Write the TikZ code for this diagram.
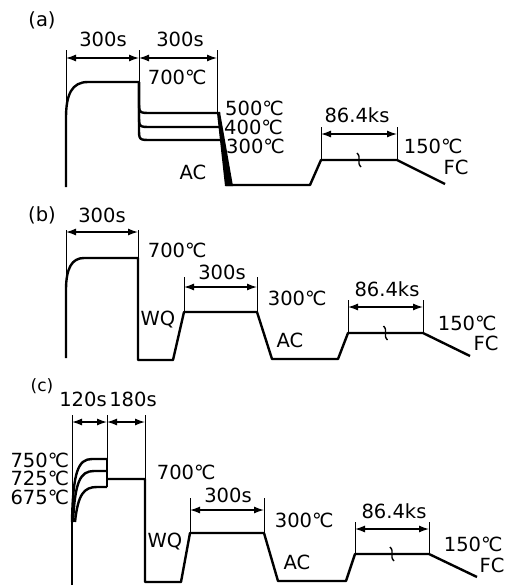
\documentclass[tikz,border=0pt]{standalone}
\usepackage{fontspec}
\setmainfont{DejaVu Sans}
\usetikzlibrary{arrows.meta,calc}
\newcommand{\dgc}{°\kern-.12em C}

\begin{document}
\begin{tikzpicture}[x=1pt, y=-1pt, font=\fontsize{19.5}{20}\selectfont,
  curve/.style={line width=2.4pt, line join=round},
  tick/.style={line width=0.8pt},
  dim/.style={line width=1.3pt, {Latex[length=10pt,width=7pt]}-{Latex[length=10pt,width=7pt]}},
  lbl/.style={inner sep=0pt},
  brk/.pic={\draw[line width=1.4pt] (-2,-7) .. controls (3,-2) and (-3,2) .. (2,7);}]
\useasboundingbox (0,0) rectangle (507,587);

% (a)
\node[lbl] (la) at (42,20) {(a)};
\coordinate (a0) at (66,187);
\coordinate (a1) at (139,82);
\coordinate (a2) at (217,113);
\coordinate (a3) at (321,160);
\coordinate (a4) at (397,160);
\coordinate (ta) at (0,50);
\coordinate (da) at (0,58);
\draw[curve] (a0) -- (66,118) .. controls (66,94) and (72,82) .. (88,82) -- (a1);
\foreach \y in {113,127,140}
  \draw[curve] (a1) -- (139,\y-12) .. controls (139,\y) .. (151,\y) -- (220,\y);
\fill (a2) -- (220,112) -- (233,186) -- (225,186) -- cycle;
\draw[curve] (226,185) -- (310,185) -- (a3) -- (a4) -- (445,184);
\pic at ($(a3)!0.5!(a4)$) {brk};
\draw[tick] (a0 |- ta) -- (66,120);
\draw[tick] (a1 |- ta) -- (a1);
\draw[tick] (a2 |- ta) -- (a2);
\draw[tick] (a3) -- ++(0,-33);
\draw[tick] (a4) -- ++(0,-33);
\draw[dim] (a0 |- da) -- (a1 |- da);
\draw[dim] (a1 |- da) -- (a2 |- da);
\draw[dim] ($(a3)+(0,-26)$) -- ($(a4)+(0,-26)$);
\node[lbl] (sa1) at (103,39) {300s};
\node[lbl] (sa2) at (180,39) {300s};
\node[lbl] (ka) at (357,115) {86.4ks};
\node[lbl] (ha) at (177,77) {700\dgc};
\node[lbl, anchor=west] (h5) at (225,108) {500\dgc};
\node[lbl, anchor=west] (h4) at (224,127) {400\dgc};
\node[lbl, anchor=west] (h3) at (226,146) {300\dgc};
\node[lbl] (aca) at (193,172) {AC};
\node[lbl] (fa) at (433,146) {150\dgc};
\node[lbl] (fca) at (456,167) {FC};

% (b)
\node[lbl] (lb) at (42,215) {(b)};
\coordinate (b0) at (66,358);
\coordinate (b1) at (138,258);
\coordinate (b2) at (184,312);
\coordinate (b3) at (257,312);
\coordinate (b4) at (348,333);
\coordinate (b5) at (423,333);
\coordinate (tb) at (0,230);
\coordinate (db) at (0,232);
\draw[curve] (b0) -- (66,290) .. controls (66,268) and (72,258) .. (84,258) -- (b1)
  -- (138,360) -- (173,360) -- (b2) -- (b3) -- (272,359) -- (338,359) -- (b4) -- (b5) -- (470,356);
\pic at ($(b4)!0.5!(b5)$) {brk};
\draw[tick] (b0 |- tb) -- (66,292);
\draw[tick] (b1 |- tb) -- (b1);
\draw[tick] (b2) -- ++(0,-35);
\draw[tick] (b3) -- ++(0,-35);
\draw[tick] (b4) -- ++(0,-33);
\draw[tick] (b5) -- ++(0,-33);
\draw[dim] (b0 |- db) -- (b1 |- db);
\draw[dim] ($(b2)+(0,-25)$) -- ($(b3)+(0,-25)$);
\draw[dim] ($(b4)+(0,-26)$) -- ($(b5)+(0,-26)$);
\node[lbl] (sb1) at (102,215) {300s};
\node[lbl] (sb2) at (222,272) {300s};
\node[lbl] (kb) at (387,289) {86.4ks};
\node[lbl] (hb) at (177,250) {700\dgc};
\node[lbl] (wqb) at (158,320) {WQ};
\node[lbl] (mb) at (297,298) {300\dgc};
\node[lbl] (acb) at (290,340) {AC};
\node[lbl] (fb) at (467,323) {150\dgc};
\node[lbl] (fcb) at (486,343) {FC};

% (c)
\node[lbl, font=\fontsize{17}{18}\selectfont] (lc) at (42,386) {(c)};
\coordinate (c0) at (72,585);
\coordinate (c1) at (107,487);
\coordinate (c2) at (145,479);
\coordinate (c3) at (190,533);
\coordinate (c4) at (264,533);
\coordinate (c5) at (355,554);
\coordinate (c6) at (429,554);
\coordinate (tc) at (0,415);
\coordinate (dc) at (0,422);
\draw[curve] (c0) -- (72,520);
\draw[curve] (72,522) .. controls (73,472) and (78,459) .. (92,459) -- (107,459);
\draw[curve] (73,522) .. controls (75,482) and (80,471) .. (94,471) -- (107,471);
\draw[curve] (75,522) .. controls (78,494) and (84,487) .. (97,487) -- (c1);
\draw[curve] (107,459) -- (c1);
\draw[curve] (107,479) -- (c2) -- (145,582) -- (181,582) -- (c3) -- (c4)
  -- (278,581) -- (346,581) -- (c5) -- (c6) -- (477,577);
\pic at ($(c5)!0.5!(c6)$) {brk};
\draw[tick] (c0 |- tc) -- (72,522);
\draw[tick] (c1 |- tc) -- (107,459);
\draw[tick] (c2 |- tc) -- (c2);
\draw[tick] (c3) -- ++(0,-35);
\draw[tick] (c4) -- ++(0,-35);
\draw[tick] (c5) -- ++(0,-32);
\draw[tick] (c6) -- ++(0,-32);
\draw[dim] (c0 |- dc) -- (c1 |- dc);
\draw[dim] (c1 |- dc) -- (c2 |- dc);
\draw[dim] ($(c3)+(0,-23)$) -- ($(c4)+(0,-23)$);
\draw[dim] ($(c5)+(0,-25)$) -- ($(c6)+(0,-25)$);
\node[lbl] (sc1) at (83,399) {120s};
\node[lbl] (sc2) at (133,399) {180s};
\node[lbl, anchor=east] (h75) at (69,460) {750\dgc};
\node[lbl, anchor=east] (h72) at (69,478) {725\dgc};
\node[lbl, anchor=east] (h67) at (69,497) {675\dgc};
\node[lbl] (hc) at (186,472) {700\dgc};
\node[lbl] (wqc) at (165,542) {WQ};
\node[lbl] (sc3) at (228,495) {300s};
\node[lbl] (mc) at (304,520) {300\dgc};
\node[lbl] (acc) at (297,562) {AC};
\node[lbl] (kc) at (394,511) {86.4ks};
\node[lbl] (fc) at (473,544) {150\dgc};
\node[lbl] (fcc) at (492,565) {FC};
\end{tikzpicture}
\end{document}
